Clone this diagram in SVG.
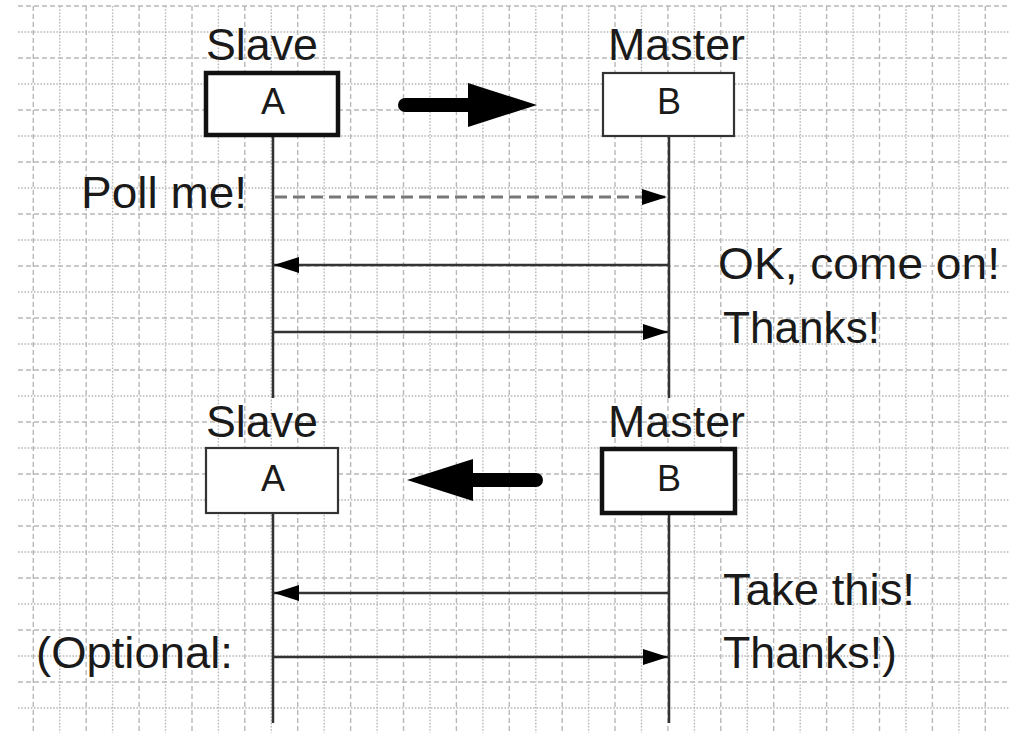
<svg xmlns="http://www.w3.org/2000/svg" width="1010" height="733" viewBox="0 0 1010 733">
  <style>
    .gh { stroke: #b8b8b8; stroke-width: 1.4; fill: none; }
    .dash { stroke-dasharray: 5 3; }
    .dot { stroke-dasharray: 1.6 1.6; }
    .label { font-family: "Liberation Sans", Arial, sans-serif; font-size: 44px; fill: #1a1a1a; }
    .boxtext { font-family: "Liberation Sans", Arial, sans-serif; font-size: 36px; fill: #1a1a1a; text-anchor: middle; }
    .box { fill: #ffffff; }
    .thick { stroke: #111; stroke-width: 4.5; }
    .thin { stroke: #333; stroke-width: 2.2; }
    .life { stroke: #333; stroke-width: 2.5; }
    .msg { stroke: #333; stroke-width: 2.5; fill: none; }
    .msgdash { stroke: #777; stroke-width: 3; stroke-dasharray: 12 6; fill: none; }
    .big { stroke: #000; stroke-width: 14; stroke-linecap: round; fill: none; }
  </style>
  <defs>
    <marker id="head" markerUnits="userSpaceOnUse" markerWidth="26" markerHeight="18" refX="25" refY="8" orient="auto">
      <path d="M0,0 L25,8 L0,16 Z" fill="#000"/>
    </marker>
  </defs>

  <rect width="1010" height="733" fill="#ffffff"/>

  <!-- background grid -->
  <g id="grid">
    <g class="gh dash">
      <path d="M18,6H1010 M18,58H1010 M18,110H1010 M18,162H1010 M18,214H1010 M18,266H1010 M18,318H1010 M18,370H1010 M18,422H1010 M18,474H1010 M18,526H1010 M18,578H1010 M18,630H1010 M18,682H1010"/>
      <path d="M33.3,6V733 M86.2,6V733 M139.1,6V733 M192,6V733 M244.8,6V733 M297.7,6V733 M350.6,6V733 M403.5,6V733 M456.4,6V733 M509.3,6V733 M562.2,6V733 M615,6V733 M667.9,6V733 M720.8,6V733 M773.7,6V733 M826.6,6V733 M879.5,6V733 M932.4,6V733 M985.3,6V733"/>
    </g>
    <g class="gh dot">
      <path d="M18,32H1010 M18,84H1010 M18,136H1010 M18,188H1010 M18,240H1010 M18,292H1010 M18,344H1010 M18,396H1010 M18,448H1010 M18,500H1010 M18,552H1010 M18,604H1010 M18,656H1010 M18,708H1010"/>
      <path d="M59.7,6V733 M112.6,6V733 M165.5,6V733 M218.4,6V733 M271.3,6V733 M324.2,6V733 M377.1,6V733 M430,6V733 M482.9,6V733 M535.8,6V733 M588.6,6V733 M641.5,6V733 M694.4,6V733 M747.3,6V733 M800.2,6V733 M853.1,6V733 M906,6V733 M958.9,6V733"/>
    </g>
  </g>

  <!-- lifelines -->
  <g id="lifelines">
    <line class="life" x1="273" y1="136" x2="273" y2="398"/>
    <line class="life" x1="669" y1="136" x2="669" y2="398"/>
    <line class="life" x1="273" y1="513" x2="273" y2="723"/>
    <line class="life" x1="669" y1="513" x2="669" y2="723"/>
  </g>

  <!-- upper phase: A is slave, B is master -->
  <g id="slave-a-top">
    <text class="label" x="206" y="60" textLength="112" lengthAdjust="spacingAndGlyphs">Slave</text>
    <rect class="box thick" x="206" y="73" width="132" height="62"/>
    <text class="boxtext" x="273" y="114">A</text>
  </g>
  <g id="master-b-top">
    <text class="label" x="608" y="60" textLength="137" lengthAdjust="spacingAndGlyphs">Master</text>
    <rect class="box thin" x="603" y="73" width="131" height="63"/>
    <text class="boxtext" x="669" y="114">B</text>
  </g>

  <!-- lower phase: roles swapped -->
  <g id="slave-a-bottom">
    <text class="label" x="206" y="437" textLength="112" lengthAdjust="spacingAndGlyphs">Slave</text>
    <rect class="box thin" x="206" y="448" width="132" height="65"/>
    <text class="boxtext" x="273" y="491">A</text>
  </g>
  <g id="master-b-bottom">
    <text class="label" x="608" y="437" textLength="137" lengthAdjust="spacingAndGlyphs">Master</text>
    <rect class="box thick" x="602" y="449" width="133" height="64"/>
    <text class="boxtext" x="669" y="491">B</text>
  </g>

  <!-- messages and role-switch arrows -->
  <g id="connectors">
    <line class="msgdash" x1="275" y1="197" x2="667" y2="197" marker-end="url(#head)"/>
    <line class="msg" x1="668" y1="265" x2="274" y2="265" marker-end="url(#head)"/>
    <line class="msg" x1="274" y1="332" x2="668" y2="332" marker-end="url(#head)"/>
    <line class="msg" x1="668" y1="593" x2="274" y2="593" marker-end="url(#head)"/>
    <line class="msg" x1="274" y1="657" x2="668" y2="657" marker-end="url(#head)"/>

    <g id="switch-top">
      <line class="big" x1="405" y1="105" x2="475" y2="105"/>
      <path d="M468,83 L537,105 L468,127 Z" fill="#000"/>
    </g>
    <g id="switch-bottom">
      <line class="big" x1="536" y1="480" x2="466" y2="480"/>
      <path d="M473,459 L407,480 L473,501 Z" fill="#000"/>
    </g>
  </g>

  <!-- message labels -->
  <g id="labels">
    <text class="label" x="81" y="208" textLength="166" lengthAdjust="spacingAndGlyphs">Poll me!</text>
    <text class="label" x="718" y="279" textLength="282" lengthAdjust="spacingAndGlyphs">OK, come on!</text>
    <text class="label" x="723" y="343" textLength="157" lengthAdjust="spacingAndGlyphs">Thanks!</text>
    <text class="label" x="723" y="605" textLength="192" lengthAdjust="spacingAndGlyphs">Take this!</text>
    <text class="label" x="36" y="668" textLength="197" lengthAdjust="spacingAndGlyphs">(Optional:</text>
    <text class="label" x="723" y="668" textLength="174" lengthAdjust="spacingAndGlyphs">Thanks!)</text>
  </g>
</svg>
